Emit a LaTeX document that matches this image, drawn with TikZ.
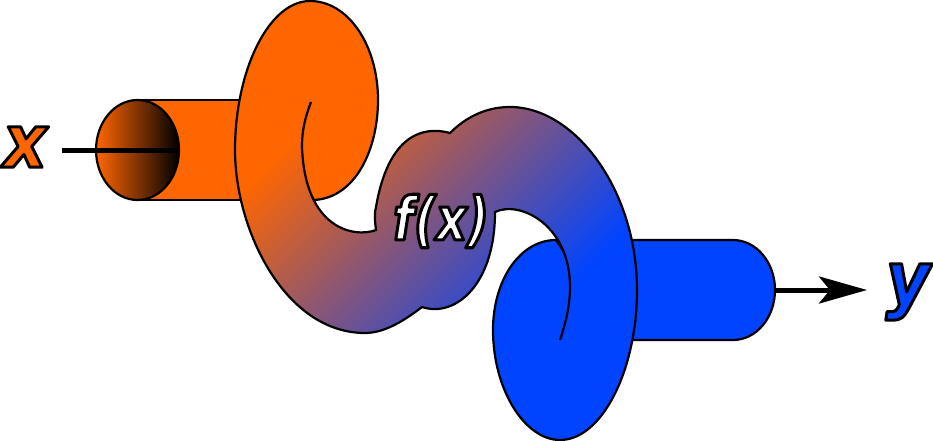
\documentclass[tikz,border=0pt]{standalone}
\usepackage{fontspec}
\usetikzlibrary{arrows.meta,shapes.geometric}
\setsansfont{DejaVu Sans}
\newfontfamily\fxfont{DejaVu Sans}[FakeStretch=0.8]
\newfontfamily\endfont{DejaVu Sans}[FakeStretch=0.92]
\definecolor{tuborange}{HTML}{FF6600}
\definecolor{tubblue}{HTML}{0044FF}
\pgfdeclarehorizontalshading{bodyfade}{100bp}{color(0bp)=(tuborange); color(31bp)=(tuborange); color(67bp)=(tubblue); color(100bp)=(tubblue)}
\newcommand{\inked}[2]{{\color{#1}\special{pdf:code q 2 Tr 3 w 1 j 0 0 0 RG}#2\special{pdf:code Q}}}
\newcommand{\lowerside}{(310,1) .. controls (269,1) and (235,70) .. (235,150)
 .. controls (235,230) and (285,333) .. (365,333)
 .. controls (385,333) and (405,320) .. (422,307)
 .. controls (455,318) and (495,285) .. (495,212)
 .. controls (520,200) and (570,225) .. (570,287)
 .. controls (570,305) and (566,322) .. (560,340)}
\newcommand{\upperside}{-- (560,440) .. controls (602,440) and (637,370) .. (637,290)
 .. controls (637,190) and (575,107) .. (510,107)
 .. controls (485,107) and (465,118) .. (450,133)
 .. controls (432,128) and (390,125) .. (376,207)
 .. controls (374,215) and (375,222) .. (376,230)
 .. controls (355,238) and (305,230) .. (302,147)
 .. controls (302,130) and (305,118) .. (311,102)}
\tikzset{
  rim/.style={line width=2.2pt},
  wire/.style={line width=5pt},
  tubetext/.style={inner sep=0pt,font=\endfont\bfseries\itshape\fontsize{74}{74}\selectfont}
}
\begin{document}
\begin{tikzpicture}[x=1pt,y=-1pt]
\useasboundingbox (0,0) rectangle (933,441);
% tubes
\draw [rim,fill=tuborange] (138,100) -- (245,100) -- (245,200) -- (138,200) -- cycle;
\draw [rim,fill=tubblue] (625,240) -- (733,240) arc (90:-90:42pt and 50pt) -- (625,340) -- cycle;
% back of the two loops
\draw [rim,fill=tuborange] (280,150) -- (314,200) .. controls (355,198) and (378,150) .. (378,100) .. controls (378,45) and (348,1) .. (310,1);
\draw [rim,fill=tubblue] (590,290) -- (556,240) .. controls (520,240) and (493,280) .. (493,330) .. controls (493,390) and (525,440) .. (560,440);
% body
\shade [shading=bodyfade,shading angle=-45] \lowerside \upperside -- cycle;
\draw [rim] \lowerside;
\draw [rim] (560,440) \upperside;
% input and output
\node [ellipse,draw,rim,inner sep=0pt,minimum width=83pt,minimum height=100pt,left color=tuborange,right color=black] (inmouth) at (137.5,150) {};
\coordinate (wirestart) at (62,150);
\draw [wire] (wirestart) -- (inmouth.east);
\coordinate (tubeend) at (775,290);
\coordinate (arrowend) at (867,290);
\draw [wire,-{Stealth[length=48pt,width=27pt,inset=11pt]}] (tubeend) -- (arrowend);
\node [tubetext] (xlabel) at (25,147) {\inked{tuborange}{x}};
\node [tubetext] (ylabel) at (908,292) {\inked{tubblue}{y}};
\node [tubetext,font=\fxfont\bfseries\itshape\fontsize{60}{60}\selectfont] (fxlabel) at (441,221) {\inked{white}{f(x)}};
\end{tikzpicture}
\end{document}
